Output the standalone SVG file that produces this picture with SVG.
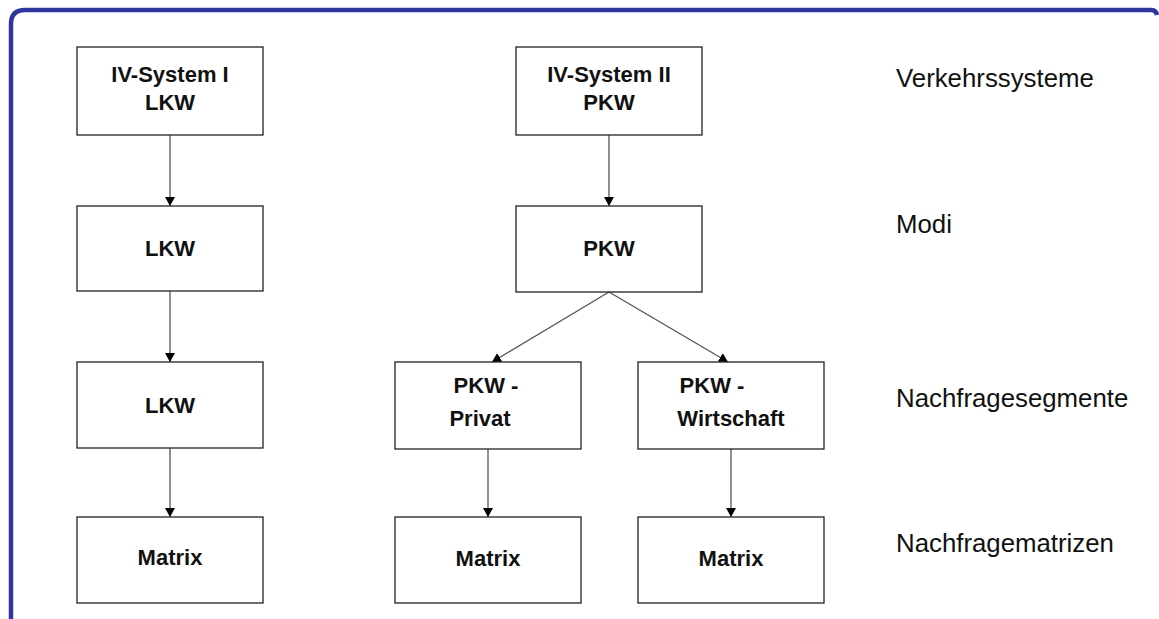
<svg xmlns="http://www.w3.org/2000/svg" width="1159" height="619" viewBox="0 0 1159 619">
<defs>
<marker id="ah" markerWidth="9" markerHeight="10" refX="9" refY="5" orient="auto" markerUnits="userSpaceOnUse">
<path d="M0,0 L9,5 L0,10 Z" fill="#000"/>
</marker>
<style>
.box{fill:#fff;stroke:#222;stroke-width:1.3}
.t{font-family:"Liberation Sans",Arial,sans-serif;font-weight:bold;font-size:22px;fill:#111;text-anchor:middle}
.lab{font-family:"Liberation Sans",Arial,sans-serif;font-size:25.8px;fill:#111}
.c{stroke:#555;stroke-width:1.3;fill:none;marker-end:url(#ah)}
</style>
</defs>
<rect width="1159" height="619" fill="#fff"/>
<path d="M11,619 L11,24 Q11,10 25,10 L1151,10 Q1156,10 1157,15" fill="none" stroke="#2E379C" stroke-width="4.5"/>
<g id="connectors">
<line class="c" x1="170" y1="135" x2="170" y2="206"/>
<line class="c" x1="170" y1="290" x2="170" y2="362"/>
<line class="c" x1="170" y1="448" x2="170" y2="517"/>
<line class="c" x1="609" y1="135" x2="609" y2="206"/>
<line class="c" x1="609" y1="292" x2="492" y2="362"/>
<line class="c" x1="609" y1="292" x2="728" y2="362"/>
<line class="c" x1="488" y1="449" x2="488" y2="517"/>
<line class="c" x1="731" y1="449" x2="731" y2="517"/>
</g>
<g id="n_ivs1"><rect class="box" x="77" y="47" width="186" height="88"/><text class="t" x="170" y="82">IV-System I</text><text class="t" x="170" y="110">LKW</text></g>
<g id="n_lkw_mode"><rect class="box" x="77" y="206" width="186" height="85"/><text class="t" x="170" y="256">LKW</text></g>
<g id="n_lkw_seg"><rect class="box" x="77" y="362" width="186" height="86"/><text class="t" x="170" y="413">LKW</text></g>
<g id="n_lkw_mat"><rect class="box" x="77" y="517" width="186" height="86"/><text class="t" x="170" y="565">Matrix</text></g>
<g id="n_ivs2"><rect class="box" x="516" y="47" width="186" height="88"/><text class="t" x="609" y="82">IV-System II</text><text class="t" x="609" y="110">PKW</text></g>
<g id="n_pkw_mode"><rect class="box" x="516" y="206" width="186" height="86"/><text class="t" x="609" y="256">PKW</text></g>
<g id="n_pkw_priv"><rect class="box" x="395" y="362" width="186" height="87"/><text class="t" x="486" y="393">PKW -</text><text class="t" x="480" y="426">Privat</text></g>
<g id="n_pkw_wirt"><rect class="box" x="638" y="362" width="186" height="87"/><text class="t" x="712" y="393">PKW -</text><text class="t" x="731" y="426">Wirtschaft</text></g>
<g id="n_priv_mat"><rect class="box" x="395" y="517" width="186" height="86"/><text class="t" x="488" y="566">Matrix</text></g>
<g id="n_wirt_mat"><rect class="box" x="638" y="517" width="186" height="86"/><text class="t" x="731" y="566">Matrix</text></g>
<g id="labels">
<text class="lab" x="896" y="87">Verkehrssysteme</text>
<text class="lab" x="896" y="233">Modi</text>
<text class="lab" x="896" y="407">Nachfragesegmente</text>
<text class="lab" x="896" y="552">Nachfragematrizen</text>
</g>
</svg>
